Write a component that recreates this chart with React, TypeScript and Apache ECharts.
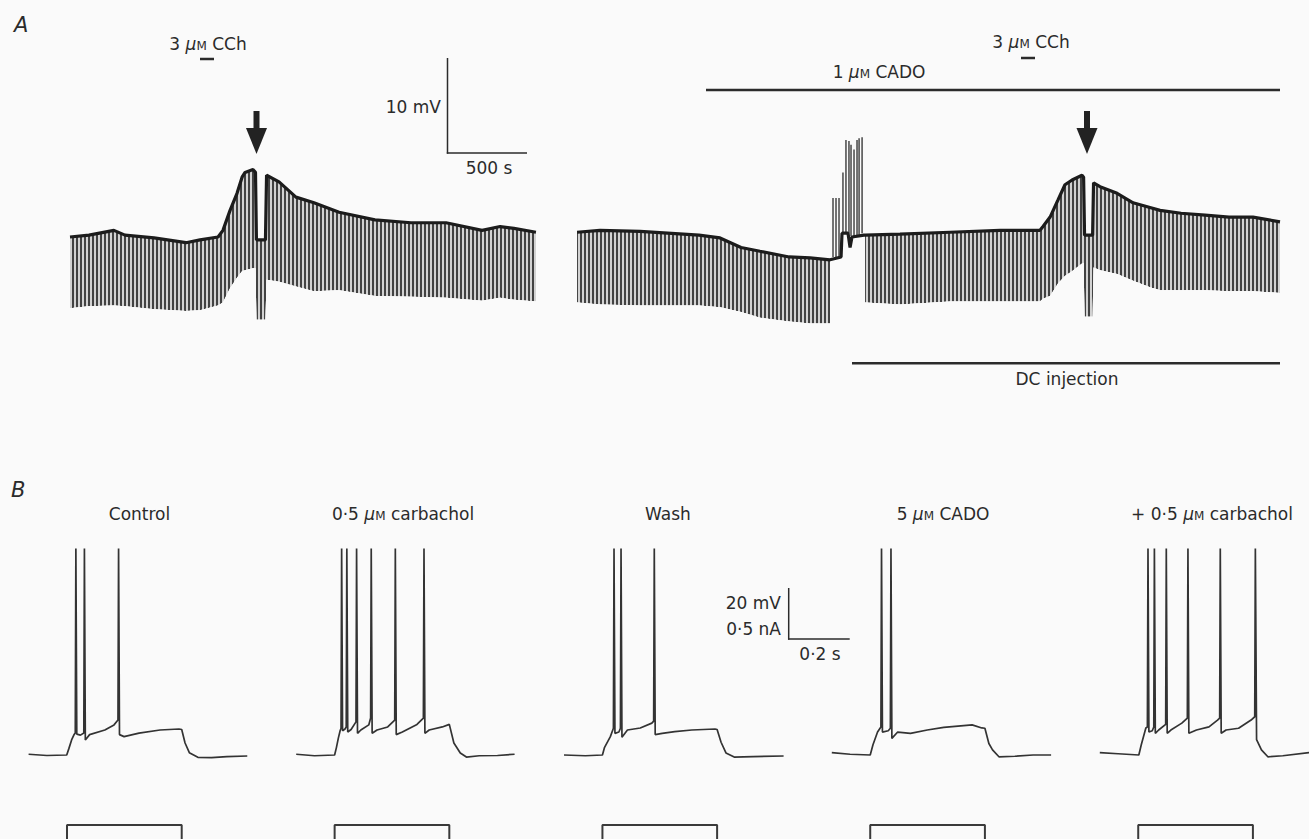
import React, { useEffect, useRef } from 'react';
import * as echarts from 'echarts';

// ---------------- Panel A : time (s) / membrane potential (mV, relative to rest) ----------------
const A_LEFT_T = [0, 120, 278, 348, 532, 734, 823, 937, 968, 1013, 1057, 1089, 1108, 1158, 1174, 1180, 1237, 1244, 1323, 1430, 1544, 1703, 1930, 2158, 2380, 2608, 2722, 2810, 2949];
const A_LEFT_TOP = [0, 0.2, 0.7, 0.2, -0.1, -0.6, -0.3, 0, 0.7, 2.8, 4.6, 6.3, 6.8, 7.1, 6.8, -0.3, -0.3, 6.5, 5.8, 4.2, 3.6, 2.6, 1.8, 1.5, 1.5, 0.7, 1.1, 0.9, 0.5];
const A_LEFT_BOT = [-7.5, -7.3, -7.2, -7.3, -7.6, -7.8, -7.7, -7.2, -6.9, -5.4, -4.3, -3.6, -3.5, -3.3, -3.3, -8.7, -8.7, -4.5, -4.7, -5.2, -5.7, -5.6, -6.2, -6.3, -6.4, -6.7, -6.4, -6.6, -6.8];

const A_R1_T = [3209, 3354, 3608, 3981, 4114, 4247, 4367, 4551, 4684, 4810];
const A_R1_TOP = [0.5, 0.7, 0.6, 0.2, -0.1, -1.1, -1.5, -2.1, -2.2, -2.4];
const A_R1_BOT = [-6.9, -7.1, -7.2, -7.2, -7.4, -7.9, -8.5, -8.9, -9.1, -9.1];

const A_R2_T = [4880, 4886, 4924, 4937, 4949, 5025];
const A_R2_V = [-2.1, 0.4, 0.4, -1.1, 0, 0.2];

const A_R3_T = [5032, 5253, 5570, 5886, 6139, 6158, 6203, 6253, 6297, 6342, 6405, 6415, 6421, 6472, 6478, 6519, 6627, 6728, 6835, 6899, 7032, 7184, 7335, 7487, 7658];
const A_R3_TOP = [0.2, 0.3, 0.5, 0.7, 0.7, 1.1, 2.1, 3.9, 5.5, 6.0, 6.5, 6.3, 0.2, 0.2, 5.7, 5.3, 4.6, 3.6, 3.1, 2.8, 2.5, 2.3, 2.1, 2.1, 1.6];
const A_R3_BOT = [-6.9, -7.1, -6.8, -6.8, -6.8, -6.5, -6.2, -4.9, -4.1, -3.6, -2.8, -2.7, -8.4, -8.4, -3.2, -3.5, -3.9, -4.6, -5.3, -5.6, -5.6, -5.6, -5.7, -5.7, -5.9];

const A_SPK_T = [4829, 4848, 4867, 4892, 4911, 4930, 4943, 4962, 4981, 4994, 5013];
const A_SPK_BASE = [-2.1, -2.1, -2.1, 0.4, 0.4, 0.4, 0.1, -0.1, 0.1, 0.2, 0.4];
const A_SPK_TOP = [4.1, 4.1, 4.1, 6.8, 10.2, 10.1, 9.7, 9.2, 10.2, 10.4, 10.5];

// ---------------- Panel B : time (s) / membrane potential (mV, relative to rest) ----------------
const B_TITLES = ['Control', '0·5 μM carbachol', 'Wash', '5 μM CADO', '+ 0·5 μM carbachol'];
const SPIKE_TOP = 81; // spikes clipped by the recorder
const PULSE_ON = 0.126;
const PULSE_OFF = 0.502;
const PULSE_AMP = 0.5; // nA
const TRACE_END = 0.72;

const B_CONTROL = [[0, 0.3], [0.06, -0.2], [0.125, 0], [0.132, 2.5], [0.141, 5.9], [0.149, 8.0], [0.153, 8.6], [0.158, 8.2], [0.170, 7.8], [0.181, 8.6], [0.186, 5.9], [0.20, 8.0], [0.25, 9.8], [0.28, 11.8], [0.293, 13.7], [0.298, 8], [0.313, 7.2], [0.362, 8.6], [0.431, 9.8], [0.493, 10.2], [0.502, 10], [0.513, 4.7], [0.527, 0.9], [0.555, -0.9], [0.6, -1.0], [0.65, -0.6], [0.717, -0.4]];
const B_CONTROL_SPK = [0.155, 0.183, 0.295];

const B_CARB = [[0, 0.3], [0.06, -0.3], [0.126, 0], [0.132, 3], [0.138, 6.5], [0.144, 9.5], [0.147, 10.5], [0.152, 9.5], [0.160, 10.2], [0.164, 11], [0.169, 9.0], [0.180, 10], [0.196, 13], [0.201, 8.5], [0.212, 9.8], [0.238, 11.8], [0.244, 14.5], [0.249, 8.5], [0.265, 9.8], [0.30, 11], [0.323, 13.7], [0.328, 8], [0.348, 9], [0.396, 12], [0.417, 14.5], [0.422, 8.5], [0.436, 9.8], [0.479, 11], [0.502, 12], [0.517, 4.7], [0.538, 0.8], [0.558, -0.8], [0.6, -0.3], [0.66, -0.2], [0.716, 0.3]];
const B_CARB_SPK = [0.149, 0.166, 0.198, 0.246, 0.325, 0.419];

const B_WASH = [[0, 0], [0.07, -0.3], [0.126, 0], [0.133, 3], [0.152, 7.2], [0.162, 10.5], [0.167, 8.5], [0.18, 9], [0.185, 10.5], [0.190, 7], [0.208, 9.8], [0.25, 10.6], [0.288, 12.5], [0.294, 13.3], [0.299, 8], [0.322, 8.5], [0.363, 9.2], [0.419, 9.8], [0.495, 10.2], [0.502, 10], [0.515, 5], [0.531, 0.8], [0.558, -0.8], [0.62, -0.6], [0.72, -0.4]];
const B_WASH_SPK = [0.164, 0.187, 0.296];

const B_CADO = [[0, 0.9], [0.06, 0.3], [0.126, 0], [0.135, 4], [0.15, 9], [0.161, 11], [0.166, 9], [0.185, 9.5], [0.192, 10.5], [0.197, 6.5], [0.216, 9], [0.258, 8.5], [0.313, 9.8], [0.367, 10.8], [0.423, 11.4], [0.46, 11.8], [0.492, 10.6], [0.502, 10.5], [0.515, 4.5], [0.527, 2], [0.548, -0.7], [0.6, -0.5], [0.66, 0], [0.719, 0]];
const B_CADO_SPK = [0.163, 0.194];

const B_CADO_CARB = [[0, 0.9], [0.06, 0.5], [0.128, 0], [0.136, 4], [0.151, 10.6], [0.156, 11], [0.161, 9], [0.172, 9.5], [0.177, 11], [0.182, 8.5], [0.193, 9.8], [0.216, 12], [0.221, 8.5], [0.233, 9.8], [0.269, 12.5], [0.287, 14.5], [0.292, 8.5], [0.317, 9.8], [0.358, 11], [0.386, 13.7], [0.393, 14.5], [0.398, 8.5], [0.414, 9.8], [0.455, 10.5], [0.496, 13.7], [0.508, 15], [0.514, 6], [0.530, 2], [0.551, -0.7], [0.6, -0.3], [0.686, 0.9]];
const B_CADO_CARB_SPK = [0.158, 0.179, 0.218, 0.289, 0.395, 0.510];

const B_WAVES = [B_CONTROL, B_CARB, B_WASH, B_CADO, B_CADO_CARB];
const B_SPIKES = [B_CONTROL_SPK, B_CARB_SPK, B_WASH_SPK, B_CADO_SPK, B_CADO_CARB_SPK];

// ---------------- layout ----------------
const FONT = "'DejaVu Sans', sans-serif";
const INK = '#2b2b2b';
const BG = '#fafafa';
const W = 1309;
const A_PX_PER_MV = 9.5;
const A_ZERO_Y = 237;
const A_TOP = 28;
const A_BOTTOM = 342;
const B_LEFTS = [28.6, 296.2, 564, 831.8, 1099.8];
const B_PX_PER_S = 305;
const B_TITLE_X = [139.5, 403, 668, 943, 1212];

function zip(t: number[], v: number[]) {
  return t.map((x, i) => [x, v[i]]);
}

function richText(text: string) {
  return text.replace(/^(.*?)μM(.*)$/, (_m, a, b) => `{n|${a}}{mu|μ}{sc|M}{n|${b}}`);
}

const RICH = {
  n: { fontSize: 17, fontFamily: FONT, fill: INK, color: INK, verticalAlign: 'bottom' },
  mu: { fontSize: 17, fontFamily: FONT, fontStyle: 'italic', fill: INK, color: INK, verticalAlign: 'bottom' },
  sc: { fontSize: 12, fontFamily: FONT, fill: INK, color: INK, verticalAlign: 'bottom', padding: [0, 0, 1, 0] },
};

function txt(x: number, y: number, text: string, align = 'center', extra: any = {}) {
  const hasMu = text.indexOf('μM') >= 0;
  return {
    type: 'text',
    x,
    y,
    z: 100,
    silent: true,
    style: {
      text: hasMu ? richText(text) : text,
      rich: hasMu ? RICH : undefined,
      fontSize: 17,
      fontFamily: FONT,
      fill: INK,
      align,
      verticalAlign: 'middle',
      ...extra,
    },
  };
}

function seg(x1: number, y1: number, x2: number, y2: number, w = 1.5) {
  return { type: 'line', z: 100, silent: true, shape: { x1, y1, x2, y2 }, style: { stroke: INK, lineWidth: w } };
}

function arrow(cx: number) {
  return [
    { type: 'rect', z: 100, silent: true, shape: { x: cx - 3, y: 111, width: 6, height: 19 }, style: { fill: '#222' } },
    { type: 'polygon', z: 100, silent: true, shape: { points: [[cx - 10.5, 128], [cx + 10.5, 128], [cx, 154]] }, style: { fill: '#222' } },
  ];
}

// band = hatched area under the upper envelope, then masked below the lower envelope
function bandSeries(t: number[], top: number[], bot: number[]) {
  const band = {
    type: 'line', xAxisIndex: 0, yAxisIndex: 0,
    symbol: 'none', silent: true, lineStyle: { width: 0, opacity: 0 },
    itemStyle: {
      color: '#d2d2d2',
      decal: {
        symbol: 'rect', symbolSize: 1, dashArrayX: [1.3, 1.7], dashArrayY: [6, 0],
        color: 'rgba(50,50,50,0.9)',
      },
    },
    areaStyle: { color: '#d2d2d2', opacity: 1, origin: 'start' },
    data: zip(t, top),
  };
  const masks = [0, 1, 2].map(() => ({
    type: 'line', xAxisIndex: 0, yAxisIndex: 0,
    symbol: 'none', silent: true, lineStyle: { width: 0, opacity: 0 },
    itemStyle: { color: BG },
    areaStyle: { color: BG, opacity: 1, origin: 'start' },
    data: zip(t, bot),
  }));
  return [band, ...masks];
}

function buildB(k: number) {
  const pts = B_WAVES[k].map((p) => [p[0], p[1]]);
  B_SPIKES[k].forEach((ts) => pts.push([ts, SPIKE_TOP]));
  pts.sort((a, b) => a[0] - b[0]);
  return pts;
}

export default function App() {
  const ref = useRef<HTMLDivElement>(null);

  useEffect(() => {
    if (!ref.current) return;
    const chart = echarts.init(ref.current, undefined, { renderer: 'svg' });

    const grids: any[] = [{ left: 70, top: A_TOP, width: 1210, height: A_BOTTOM - A_TOP }];
    const xAxes: any[] = [{ type: 'value', gridIndex: 0, min: 0, max: 7658, show: false }];
    const yAxes: any[] = [{
      type: 'value', gridIndex: 0,
      min: (A_ZERO_Y - A_BOTTOM) / A_PX_PER_MV,
      max: (A_ZERO_Y - A_TOP) / A_PX_PER_MV,
      show: false,
    }];
    const widths = B_LEFTS.map((l) => Math.min(TRACE_END * B_PX_PER_S, W - l));
    for (let k = 0; k < 5; k++) {
      grids.push({ left: B_LEFTS[k], top: 538.25, width: widths[k], height: 242.25 });
      xAxes.push({ type: 'value', gridIndex: 1 + k, min: 0, max: widths[k] / B_PX_PER_S, show: false });
      yAxes.push({ type: 'value', gridIndex: 1 + k, min: -10, max: 85, show: false });
    }
    for (let k = 0; k < 5; k++) {
      grids.push({ left: B_LEFTS[k], top: 799.5, width: widths[k], height: 39.5 });
      xAxes.push({ type: 'value', gridIndex: 6 + k, min: 0, max: widths[k] / B_PX_PER_S, show: false });
      yAxes.push({ type: 'value', gridIndex: 6 + k, min: 0.75 - 39.5 / 102, max: 0.75, show: false });
    }

    const series: any[] = [
      ...bandSeries(A_LEFT_T, A_LEFT_TOP, A_LEFT_BOT),
      ...bandSeries(A_R1_T, A_R1_TOP, A_R1_BOT),
      ...bandSeries(A_R3_T, A_R3_TOP, A_R3_BOT),
      {
        type: 'custom', xAxisIndex: 0, yAxisIndex: 0, silent: true,
        encode: { x: 0, y: [1, 2] },
        data: A_SPK_T.map((t, i) => [t, A_SPK_BASE[i], A_SPK_TOP[i]]),
        renderItem: (_p: any, api: any) => {
          const a = api.coord([api.value(0), api.value(1)]);
          const b = api.coord([api.value(0), api.value(2)]);
          return {
            type: 'line',
            shape: { x1: a[0], y1: a[1], x2: b[0], y2: b[1] },
            style: { stroke: '#3a3a3a', lineWidth: 1.4 },
          };
        },
      },
      {
        type: 'line', xAxisIndex: 0, yAxisIndex: 0, symbol: 'none', silent: true,
        lineStyle: { color: '#1c1c1c', width: 3.2 },
        data: zip(A_LEFT_T, A_LEFT_TOP),
      },
      {
        type: 'line', xAxisIndex: 0, yAxisIndex: 0, symbol: 'none', silent: true,
        lineStyle: { color: '#1c1c1c', width: 3.2 },
        data: [...zip(A_R1_T, A_R1_TOP), ...zip(A_R2_T, A_R2_V), ...zip(A_R3_T, A_R3_TOP)],
      },
    ];

    for (let k = 0; k < 5; k++) {
      series.push({
        type: 'line', xAxisIndex: 1 + k, yAxisIndex: 1 + k, symbol: 'none', silent: true,
        lineStyle: { color: '#333', width: 1.7 },
        data: buildB(k),
      });
      series.push({
        type: 'line', xAxisIndex: 6 + k, yAxisIndex: 6 + k, symbol: 'none', silent: true,
        lineStyle: { color: '#3a3a3a', width: 2 },
        data: [[0, 0], [PULSE_ON, 0], [PULSE_ON, PULSE_AMP], [PULSE_OFF, PULSE_AMP], [PULSE_OFF, 0], [TRACE_END, 0]],
      });
    }

    const graphic: any[] = [
      txt(14, 25, 'A', 'left', { fontStyle: 'italic', fontSize: 21 }),
      txt(11, 490, 'B', 'left', { fontStyle: 'italic', fontSize: 21 }),
      // Panel A annotations
      txt(208, 44, '3 μM CCh'),
      seg(200, 59, 214, 59, 2.5),
      txt(1031, 42, '3 μM CCh'),
      seg(1021, 58, 1035, 58, 2.5),
      txt(879, 72, '1 μM CADO'),
      seg(706, 90, 1280, 90, 2.5),
      ...arrow(256.5),
      ...arrow(1087),
      seg(447.5, 58, 447.5, 153.7, 1.5),
      seg(446.8, 153, 527, 153, 1.5),
      txt(441, 107, '10 mV', 'right'),
      txt(489, 168, '500 s'),
      seg(852, 363.3, 1280, 363.3, 2.5),
      txt(1067, 379, 'DC injection'),
      // Panel B annotations
      ...B_TITLES.map((t, k) => txt(B_TITLE_X[k], 514, t)),
      seg(788.7, 588, 788.7, 639.7, 1.5),
      seg(788, 639, 849.7, 639, 1.5),
      txt(781, 603, '20 mV', 'right'),
      txt(781, 629, '0·5 nA', 'right'),
      txt(820, 654, '0·2 s'),
    ];

    chart.setOption({
      animation: false,
      backgroundColor: BG,
      grid: grids,
      xAxis: xAxes,
      yAxis: yAxes,
      series,
      graphic,
    });

    return () => chart.dispose();
  }, []);

  return (
    <div
      ref={ref}
      style={{ position: 'fixed', left: 0, top: 0, width: W, height: 839, background: BG }}
    />
  );
}
